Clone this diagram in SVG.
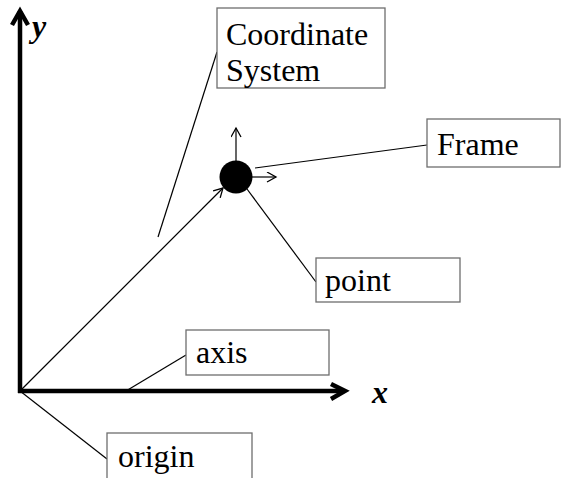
<svg xmlns="http://www.w3.org/2000/svg" width="562" height="478" viewBox="0 0 562 478">
<style>
.box{fill:#fff;stroke:#6e6e6e;stroke-width:1.3}
.lbl{font-family:"Liberation Serif","Times New Roman",serif;font-size:32px;fill:#000}
.ax{font-family:"Liberation Serif","Times New Roman",serif;font-size:32px;font-weight:bold;font-style:italic;fill:#000}
.thin{stroke:#000;stroke-width:1.2;fill:none}
.thick{stroke:#000;stroke-width:4.5;fill:none}
</style>
<defs>
<marker id="open" markerWidth="12" markerHeight="12" refX="10" refY="5" orient="auto" markerUnits="userSpaceOnUse">
<path d="M1,0 L10,5 L1,10" fill="none" stroke="#000" stroke-width="1.3"/>
</marker>
</defs>
<rect width="562" height="478" fill="#fff"/>
<g id="connectors">
<line class="thin" x1="158" y1="237" x2="217" y2="52"/>
<line class="thin" x1="255" y1="168" x2="427" y2="145"/>
<line class="thin" x1="247" y1="189" x2="316" y2="282"/>
<line class="thin" x1="126" y1="391" x2="186" y2="355"/>
<line class="thin" x1="20" y1="391" x2="107" y2="459"/>
<line class="thin" x1="20" y1="391" x2="223" y2="188" marker-end="url(#open)"/>
<line class="thin" x1="236" y1="162" x2="236" y2="128" marker-end="url(#open)"/>
<line class="thin" x1="250" y1="177" x2="276" y2="177" marker-end="url(#open)"/>
</g>
<g id="axes">
<line class="thick" x1="20" y1="393" x2="20" y2="11"/>
<path class="thick" d="M12,25 L20,11 L28,25" stroke-linejoin="miter"/>
<line class="thick" x1="18" y1="391" x2="344" y2="391"/>
<path class="thick" d="M331,384 L345,391 L331,399" stroke-linejoin="miter"/>
<text class="ax" x="32" y="37">y</text>
<text class="ax" x="372" y="403">x</text>
</g>
<g id="point-dot">
<circle cx="236" cy="177" r="16.5" fill="#000"/>
</g>
<g id="coord-system">
<rect class="box" x="217" y="8" width="168" height="80"/>
<text class="lbl" x="226" y="45">Coordinate</text>
<text class="lbl" x="226" y="81">System</text>
</g>
<g id="frame">
<rect class="box" x="427" y="119" width="133" height="48"/>
<text class="lbl" x="437" y="155">Frame</text>
</g>
<g id="point">
<rect class="box" x="316" y="258" width="144" height="44"/>
<text class="lbl" x="325" y="291">point</text>
</g>
<g id="axis">
<rect class="box" x="186" y="330" width="143" height="45"/>
<text class="lbl" x="196" y="363">axis</text>
</g>
<g id="origin">
<rect class="box" x="107" y="433" width="145" height="50"/>
<text class="lbl" x="118" y="467">origin</text>
</g>
</svg>
